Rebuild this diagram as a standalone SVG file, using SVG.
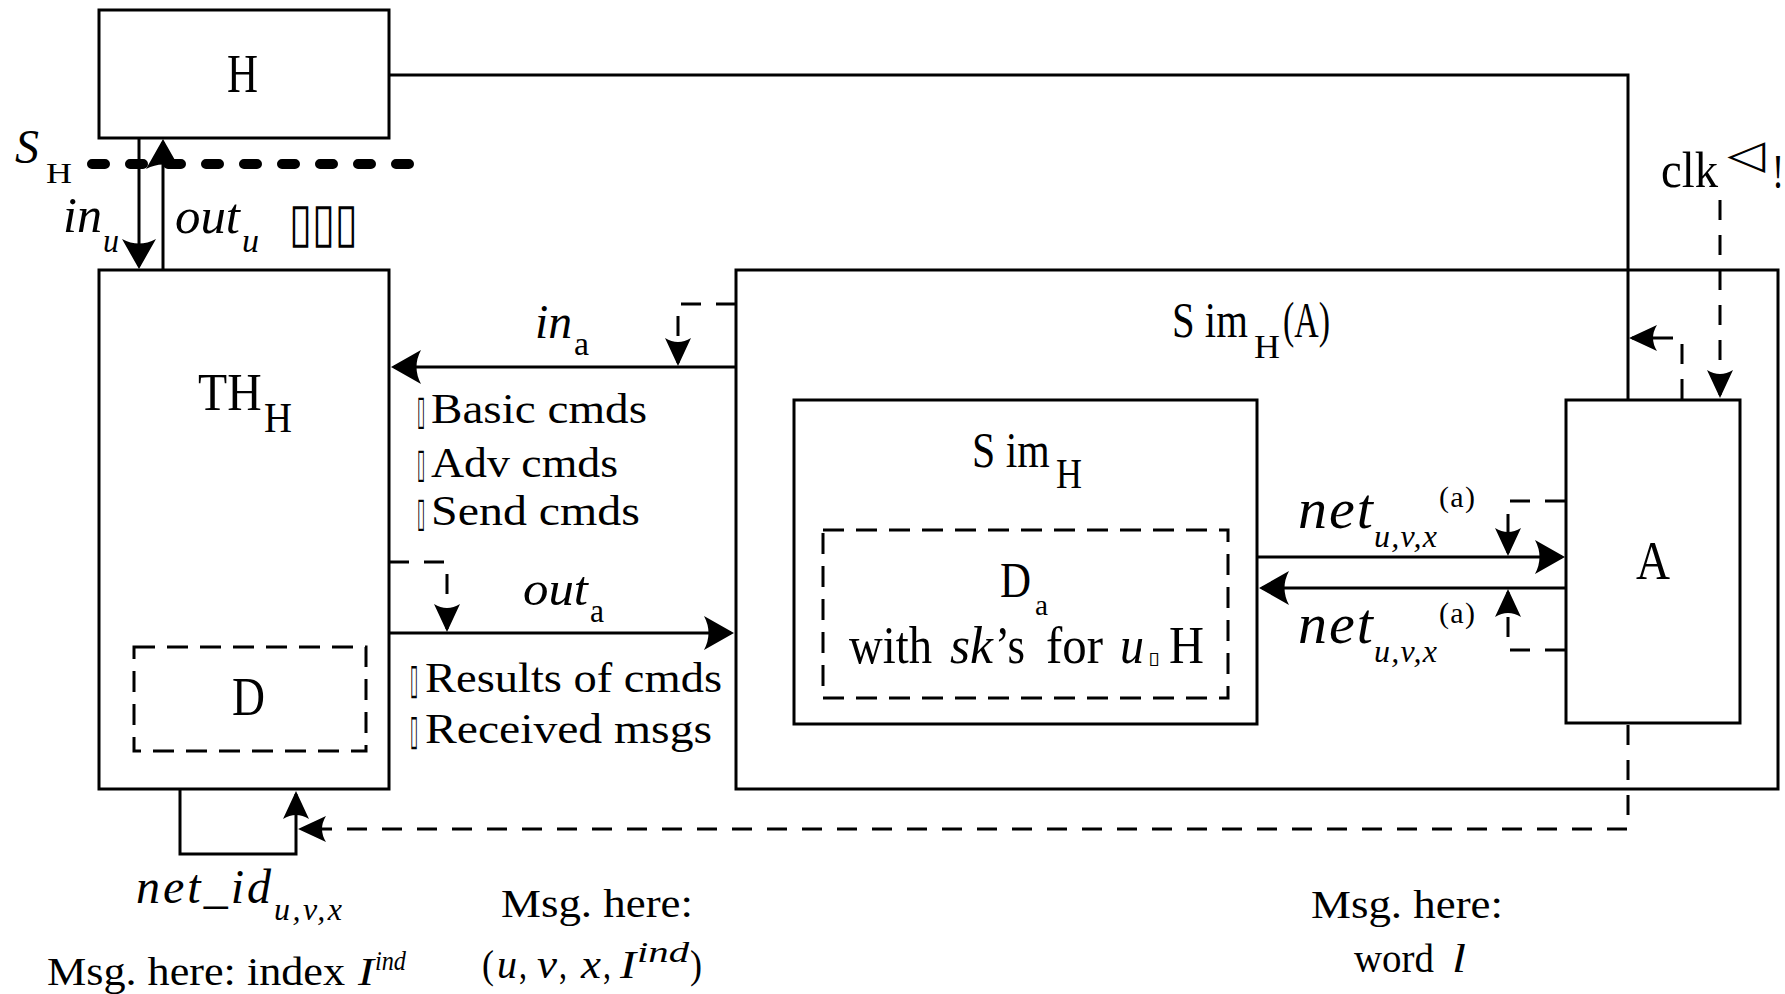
<svg xmlns="http://www.w3.org/2000/svg" width="1785" height="994" viewBox="0 0 1785 994">
<defs>
<style>
.box{fill:none;stroke:#000;stroke-width:3}
.dbox{fill:none;stroke:#000;stroke-width:3;stroke-dasharray:21 12}
.ln{fill:none;stroke:#000;stroke-width:3}
.dl{fill:none;stroke:#000;stroke-width:3;stroke-dasharray:20 15}
.dot{fill:none;stroke:#000;stroke-width:10;stroke-linecap:round;stroke-dasharray:13 25}
.t{font-family:"Liberation Serif","Times New Roman",serif;fill:#000}
.i{font-style:italic}
.n{font-style:normal}
.sym{font-family:"DejaVu Sans",sans-serif;fill:#000}
</style>
<marker id="big" markerUnits="userSpaceOnUse" orient="auto" viewBox="-30 -20 36 40" markerWidth="36" markerHeight="40" refX="0" refY="0">
<path d="M3,0 L-27,-17 Q-18,0 -27,17 Z" fill="#000"/>
</marker>
<marker id="sm" markerUnits="userSpaceOnUse" orient="auto" viewBox="-30 -20 36 40" markerWidth="36" markerHeight="40" refX="0" refY="0">
<path d="M3,0 L-25,-13 Q-17,0 -25,13 Z" fill="#000"/>
</marker>
</defs>
<rect x="0" y="0" width="1785" height="994" fill="#fff"/>

<g id="node-H">
<rect class="box" x="99" y="10" width="290" height="128"/>
<text class="t" x="227" y="92" font-size="54" textLength="31" lengthAdjust="spacingAndGlyphs">H</text>
</g>

<g id="boundary-SH">
<path class="dot" d="M92,164 H410"/>
<text class="t i" x="15" y="163" font-size="48" textLength="24" lengthAdjust="spacingAndGlyphs">S</text>
<text class="t" x="46" y="183" font-size="30" textLength="26" lengthAdjust="spacingAndGlyphs">H</text>
</g>

<g id="node-THH">
<rect class="box" x="99" y="270" width="290" height="519"/>
<text class="t" transform="translate(198,410) scale(0.9,1)" font-size="53">TH</text>
<text class="t" x="264" y="432" font-size="42" textLength="28" lengthAdjust="spacingAndGlyphs">H</text>
</g>

<g id="node-D">
<rect class="dbox" x="134" y="647" width="232" height="104"/>
<text class="t" x="232" y="715" font-size="54" textLength="33" lengthAdjust="spacingAndGlyphs">D</text>
</g>

<g id="node-SimHA">
<rect class="box" x="736" y="270" width="1042" height="519"/>
<text class="t" transform="translate(1172,337) scale(0.815,1)" font-size="50">S im</text>
<text class="t" x="1254" y="358" font-size="34" textLength="26" lengthAdjust="spacingAndGlyphs">H</text>
<text class="t" x="1283" y="337" font-size="50" textLength="47" lengthAdjust="spacingAndGlyphs">(A)</text>
</g>

<g id="node-SimH">
<rect class="box" x="794" y="400" width="463" height="324"/>
<text class="t" transform="translate(972,467) scale(0.835,1)" font-size="50">S im</text>
<text class="t" x="1056" y="488" font-size="42" textLength="26" lengthAdjust="spacingAndGlyphs">H</text>
</g>

<g id="node-Da">
<rect class="dbox" x="823" y="530" width="405" height="168"/>
<text class="t" transform="translate(1000,597) scale(0.86,1)" font-size="50">D</text>
<text class="t" x="1035" y="615" font-size="30" textLength="13" lengthAdjust="spacingAndGlyphs">a</text>
<text class="t" x="849" y="663" font-size="53" textLength="83" lengthAdjust="spacingAndGlyphs">with</text>
<text class="t i" x="950" y="663" font-size="53" textLength="43" lengthAdjust="spacingAndGlyphs">sk</text>
<text class="t" x="995" y="663" font-size="53" textLength="30" lengthAdjust="spacingAndGlyphs">’s</text>
<text class="t" x="1046" y="663" font-size="53" textLength="57" lengthAdjust="spacingAndGlyphs">for</text>
<text class="t i" x="1120" y="663" font-size="53" textLength="24" lengthAdjust="spacingAndGlyphs">u</text>
<text class="sym" transform="translate(1148,664) scale(1.25,1)" font-size="17">▯</text>
<text class="t" x="1169" y="663" font-size="53" textLength="35" lengthAdjust="spacingAndGlyphs">H</text>
</g>

<g id="node-A">
<rect class="box" x="1566" y="400" width="174" height="323"/>
<text class="t" x="1636" y="579" font-size="54" textLength="34" lengthAdjust="spacingAndGlyphs">A</text>
</g>

<g id="connectors">
<path class="ln" d="M389,75 H1628 V399"/>
<path class="ln" d="M139,138 V266" marker-end="url(#big)"/>
<path class="ln" d="M163,269 V142" marker-end="url(#big)"/>
<path class="ln" d="M736,367 H394" marker-end="url(#big)"/>
<path class="dl" d="M736,304 H678 V363" marker-end="url(#sm)"/>
<path class="ln" d="M389,633 H731" marker-end="url(#big)"/>
<path class="dl" d="M389,562 H447 V629" marker-end="url(#sm)"/>
<path class="ln" d="M1258,557 H1562" marker-end="url(#big)"/>
<path class="ln" d="M1565,588 H1262" marker-end="url(#big)"/>
<path class="dl" d="M1565,501 H1508 V553" marker-end="url(#sm)"/>
<path class="dl" d="M1565,650 H1508 V592" marker-end="url(#sm)"/>
<path class="dl" d="M1720,200 V395" marker-end="url(#sm)"/>
<path class="dl" d="M1682,399 V338 H1632" marker-end="url(#sm)"/>
<path class="dl" d="M1628,725 V829 H301" marker-end="url(#sm)"/>
<path class="ln" d="M180,790 V854 H296 V794" marker-end="url(#sm)"/>
</g>

<g id="labels">
<text class="t i" x="63" y="232" font-size="50" textLength="39" lengthAdjust="spacingAndGlyphs">in</text>
<text class="t i" x="103" y="252" font-size="33" textLength="16" lengthAdjust="spacingAndGlyphs">u</text>
<text class="t i" x="175" y="233" font-size="50" textLength="65" lengthAdjust="spacingAndGlyphs">out</text>
<text class="t i" x="242" y="252" font-size="33" textLength="17" lengthAdjust="spacingAndGlyphs">u</text>
<text class="sym" transform="translate(289,241) scale(0.77,1)" font-size="54">▯▯▯</text>

<text class="t i" x="535" y="338" font-size="48" textLength="37" lengthAdjust="spacingAndGlyphs">in</text>
<text class="t" x="574" y="355" font-size="33" textLength="15" lengthAdjust="spacingAndGlyphs">a</text>
<text class="sym" transform="translate(417,424) scale(0.36,1)" font-size="41">▯</text>
<text class="t" x="431" y="423" font-size="43" textLength="216" lengthAdjust="spacingAndGlyphs">Basic cmds</text>
<text class="sym" transform="translate(417,477) scale(0.36,1)" font-size="41">▯</text>
<text class="t" x="431" y="477" font-size="43" textLength="187" lengthAdjust="spacingAndGlyphs">Adv cmds</text>
<text class="sym" transform="translate(417,526) scale(0.36,1)" font-size="41">▯</text>
<text class="t" x="431" y="525" font-size="43" textLength="209" lengthAdjust="spacingAndGlyphs">Send cmds</text>

<text class="t i" x="523" y="605" font-size="48" textLength="65" lengthAdjust="spacingAndGlyphs">out</text>
<text class="t" x="590" y="622" font-size="33" textLength="14" lengthAdjust="spacingAndGlyphs">a</text>
<text class="sym" transform="translate(410,693) scale(0.35,1)" font-size="42">▯</text>
<text class="t" x="425" y="692" font-size="42" textLength="297" lengthAdjust="spacingAndGlyphs">Results of cmds</text>
<text class="sym" transform="translate(410,744) scale(0.35,1)" font-size="42">▯</text>
<text class="t" x="425" y="743" font-size="42" textLength="287" lengthAdjust="spacingAndGlyphs">Received msgs</text>

<text class="t i" y="528" font-size="58"><tspan x="1298" letter-spacing="2">ne</tspan><tspan letter-spacing="0">t</tspan><tspan x="1374" y="547" font-size="32" letter-spacing="1.2">u,v,x</tspan><tspan class="n" x="1439" y="507" font-size="30" letter-spacing="1.3">(a)</tspan></text>
<text class="t i" y="643" font-size="58"><tspan x="1298" letter-spacing="2">ne</tspan><tspan letter-spacing="0">t</tspan><tspan x="1374" y="662" font-size="32" letter-spacing="1.2">u,v,x</tspan><tspan class="n" x="1439" y="623" font-size="30" letter-spacing="1.3">(a)</tspan></text>

<text class="t" x="1661" y="187" font-size="50" textLength="57" lengthAdjust="spacingAndGlyphs">clk</text>
<text class="sym" x="1727" y="168" font-size="40" textLength="38" lengthAdjust="spacingAndGlyphs">◁</text>
<text class="t" x="1772" y="188" font-size="48" textLength="12" lengthAdjust="spacingAndGlyphs">!</text>

<text class="t i" x="136" y="903" font-size="48" textLength="135" lengthAdjust="spacing">net_id</text>
<text class="t i" x="274" y="920" font-size="32" textLength="68" lengthAdjust="spacing">u,v,x</text>

<text class="t" x="47" y="985" font-size="41" textLength="298" lengthAdjust="spacingAndGlyphs">Msg. here: index</text>
<text class="t i" x="358" y="985" font-size="41" textLength="16" lengthAdjust="spacingAndGlyphs">I</text>
<text class="t i" x="375" y="970" font-size="28" textLength="31" lengthAdjust="spacingAndGlyphs">ind</text>

<text class="t" x="501" y="917" font-size="41" textLength="192" lengthAdjust="spacingAndGlyphs">Msg. here:</text>
<text class="t" x="482" y="978" font-size="41" textLength="12" lengthAdjust="spacingAndGlyphs">(</text>
<text class="t i" x="497" y="978" font-size="41" textLength="20" lengthAdjust="spacingAndGlyphs">u</text>
<text class="t" x="519" y="978" font-size="41" textLength="8" lengthAdjust="spacingAndGlyphs">,</text>
<text class="t i" x="537" y="978" font-size="41" textLength="20" lengthAdjust="spacingAndGlyphs">v</text>
<text class="t" x="559" y="978" font-size="41" textLength="8" lengthAdjust="spacingAndGlyphs">,</text>
<text class="t i" x="581" y="978" font-size="41" textLength="20" lengthAdjust="spacingAndGlyphs">x</text>
<text class="t" x="603" y="978" font-size="41" textLength="8" lengthAdjust="spacingAndGlyphs">,</text>
<text class="t i" x="620" y="978" font-size="41" textLength="16" lengthAdjust="spacingAndGlyphs">I</text>
<text class="t i" x="637" y="962" font-size="29" textLength="52" lengthAdjust="spacingAndGlyphs">ind</text>
<text class="t" x="690" y="978" font-size="41" textLength="12" lengthAdjust="spacingAndGlyphs">)</text>

<text class="t" x="1311" y="918" font-size="41" textLength="192" lengthAdjust="spacingAndGlyphs">Msg. here:</text>
<text class="t" x="1354" y="972" font-size="41" textLength="80" lengthAdjust="spacingAndGlyphs">word</text>
<text class="t i" x="1452" y="972" font-size="41" textLength="14" lengthAdjust="spacingAndGlyphs">l</text>
</g>
</svg>
